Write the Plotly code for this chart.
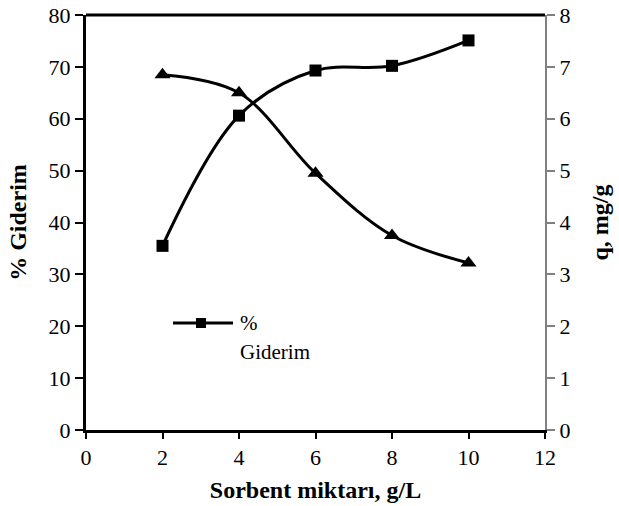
import plotly.graph_objects as go

# Sorbent dose (g/L)
dose = [2, 4, 6, 8, 10]
# Removal efficiency (%), left axis
removal_pct = [35.5, 60.6, 69.3, 70.2, 75.1]
# Adsorption capacity q (mg/g), right axis
capacity_q = [6.85, 6.5, 4.95, 3.75, 3.22]

x_ticks = [0, 2, 4, 6, 8, 10, 12]
y1_ticks = [0, 10, 20, 30, 40, 50, 60, 70, 80]
y2_ticks = [0, 1, 2, 3, 4, 5, 6, 7, 8]

FONT = "Liberation Serif"
TICK_SIZE = 22
TITLE_SIZE = 24

fig = go.Figure()

fig.add_trace(go.Scatter(
    x=dose, y=removal_pct, name="% Giderim",
    mode="lines+markers",
    line=dict(color="black", width=3, shape="spline", smoothing=1.0),
    marker=dict(symbol="square", size=12, color="black"),
    yaxis="y", showlegend=False,
))

fig.add_trace(go.Scatter(
    x=dose, y=capacity_q, name="q",
    mode="lines+markers",
    line=dict(color="black", width=3, shape="spline", smoothing=1.0),
    marker=dict(symbol="triangle-up", size=14, color="black"),
    yaxis="y2", showlegend=False,
))

# Legend key for the removal series (line with a square marker and a two-line label)
legend_shapes = [
    dict(type="line", xref="paper", yref="paper", x0=0.1895, x1=0.3203, y0=0.2578, y1=0.2578,
         line=dict(color="black", width=3)),
    dict(type="rect", xref="paper", yref="paper", x0=0.2505 - 0.0109, x1=0.2505 + 0.0109,
         y0=0.2578 - 0.012, y1=0.2578 + 0.012, fillcolor="black", line=dict(width=0)),
]
legend_labels = [
    dict(text="%", x=0.3312, y=0.2578),
    dict(text="Giderim", x=0.3312, y=0.1880),
]

fig.update_layout(
    width=619, height=506,
    margin=dict(l=86, r=74, t=15, b=76, autoexpand=False),
    paper_bgcolor="white", plot_bgcolor="white",
    font=dict(family=FONT, size=TICK_SIZE, color="black"),
    xaxis=dict(
        range=[0, 12], tickvals=x_ticks, ticks="outside", ticklen=6,
        tickwidth=2, tickcolor="black",
        showline=True, linecolor="black", linewidth=3,
        showgrid=False, zeroline=False, automargin=False,
        title=dict(text="<b>Sorbent miktarı, g/L</b>",
                   font=dict(family=FONT, size=TITLE_SIZE), standoff=12),
        tickfont=dict(family=FONT, size=TICK_SIZE),
    ),
    yaxis=dict(
        range=[0, 80], tickvals=y1_ticks, ticks="outside", ticklen=8,
        tickwidth=2, tickcolor="black",
        showline=True, linecolor="black", linewidth=3,
        showgrid=False, zeroline=False, automargin=False,
        title=dict(text="<b>% Giderim</b>",
                   font=dict(family=FONT, size=TITLE_SIZE), standoff=16),
        tickfont=dict(family=FONT, size=TICK_SIZE),
    ),
    yaxis2=dict(
        range=[0, 8], tickvals=y2_ticks, overlaying="y", side="right",
        ticks="outside", ticklen=8, tickwidth=2, tickcolor="#808080",
        showline=True, linecolor="#808080", linewidth=2,
        showgrid=False, zeroline=False, automargin=False,
        title=dict(text="<b>q, mg/g</b>",
                   font=dict(family=FONT, size=TITLE_SIZE), standoff=22),
        tickfont=dict(family=FONT, size=TICK_SIZE),
    ),
    shapes=[dict(type="line", xref="paper", yref="paper", x0=0, x1=1, y0=1, y1=1,
                 line=dict(color="black", width=3))] + legend_shapes,
    annotations=[
        dict(text=lab["text"], x=lab["x"], y=lab["y"], xref="paper", yref="paper",
             xanchor="left", yanchor="middle", showarrow=False,
             font=dict(family=FONT, size=21, color="black"))
        for lab in legend_labels
    ],
)

fig.write_html("out.html")
